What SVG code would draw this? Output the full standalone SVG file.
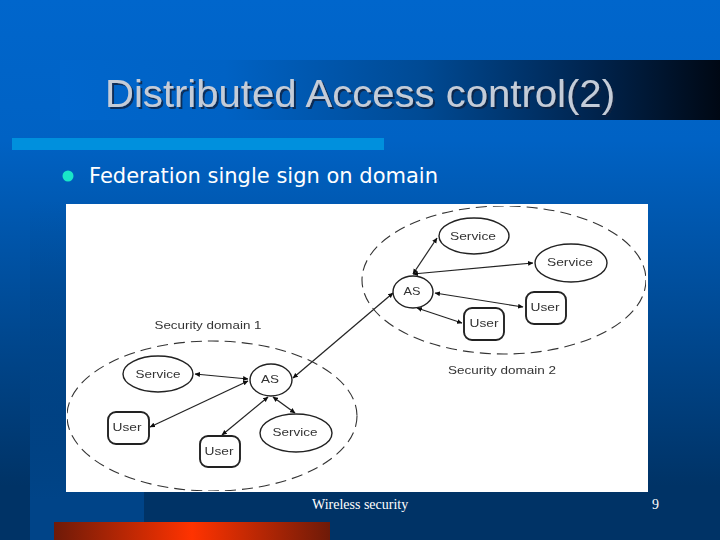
<svg xmlns="http://www.w3.org/2000/svg" width="720" height="540" viewBox="0 0 720 540">
<style>
.d{font-family:"Liberation Sans",Arial,sans-serif;font-size:11px;fill:#333;text-anchor:middle}
.n{fill:#fff;stroke:#222;stroke-width:1.4}
.u{fill:#fff;stroke:#222;stroke-width:1.9}
.b{fill:none;stroke:#333;stroke-width:1.1;stroke-dasharray:11 6}
.c{fill:none;stroke:#222;stroke-width:1.2;marker-start:url(#m);marker-end:url(#m)}
.f{font-family:"Liberation Serif",serif;font-size:14px;fill:#fff}
</style>
<defs>
<linearGradient id="bg" x1="0" y1="0" x2="0" y2="540" gradientUnits="userSpaceOnUse"><stop offset="0" stop-color="#0066cc"/><stop offset="0.26" stop-color="#0062c4"/><stop offset="0.9" stop-color="#003366"/><stop offset="1" stop-color="#003366"/></linearGradient>
<linearGradient id="side" x1="0" y1="200" x2="0" y2="500" gradientUnits="userSpaceOnUse"><stop offset="0" stop-color="#004488" stop-opacity="0"/><stop offset="1" stop-color="#004488"/></linearGradient>
<linearGradient id="band" x1="0" y1="0" x2="1" y2="0"><stop offset="0" stop-color="#0066cc"/><stop offset="0.25" stop-color="#0062c4"/><stop offset="0.55" stop-color="#004a94"/><stop offset="0.8" stop-color="#002550"/><stop offset="1" stop-color="#000814"/></linearGradient>
<linearGradient id="red" x1="0" y1="0" x2="1" y2="0"><stop offset="0" stop-color="#6e1a08"/><stop offset="0.5" stop-color="#ff3300"/><stop offset="1" stop-color="#6e1a08"/></linearGradient>
<marker id="m" viewBox="0 0 6 6" refX="5.5" refY="3" markerWidth="4.5" markerHeight="4.5" orient="auto-start-reverse"><path d="M0 0.3L6 3L0 5.7Z" fill="#111"/></marker>
<filter id="sh" x="-5%" y="-20%" width="110%" height="140%"><feDropShadow dx="2" dy="2" stdDeviation="0.6" flood-color="#10243c" flood-opacity="0.8"/></filter>
<filter id="soft" x="0" y="0" width="100%" height="100%"><feGaussianBlur stdDeviation="0.35"/></filter>
</defs>
<rect width="720" height="540" fill="url(#bg)"/>
<rect x="30" y="200" width="114" height="340" fill="url(#side)"/>
<rect x="60" y="60" width="660" height="60" fill="url(#band)"/>
<rect x="12" y="138" width="372" height="12" fill="#0090dd"/>
<text x="105" y="107" font-family="Liberation Sans,Arial,sans-serif" font-size="39.5" fill="#c4ccd8" filter="url(#sh)" textLength="510" lengthAdjust="spacingAndGlyphs">Distributed Access control(2)</text>
<circle cx="68" cy="176" r="5.5" fill="#19e6c8"/>
<text x="89" y="183" font-family="DejaVu Sans,sans-serif" font-size="22" fill="#fff" textLength="349" lengthAdjust="spacingAndGlyphs">Federation single sign on domain</text>
<rect x="66" y="204" width="582" height="288" fill="#fff"/>
<g filter="url(#soft)">
<g id="connectors">
<line class="c" x1="413" y1="274" x2="437" y2="238"/>
<line class="c" x1="413" y1="274" x2="533" y2="263"/>
<line class="c" x1="435" y1="293" x2="523" y2="307"/>
<line class="c" x1="417" y1="308" x2="462" y2="323"/>
<line class="c" x1="293" y1="378" x2="393" y2="293"/>
<line class="c" x1="195" y1="374" x2="248" y2="379"/>
<line class="c" x1="150" y1="427" x2="248" y2="381"/>
<line class="c" x1="268" y1="397" x2="222" y2="435"/>
<line class="c" x1="273" y1="397" x2="295" y2="413"/>
</g>
<g id="domain-2"><ellipse class="b" cx="504" cy="280" rx="142" ry="74"/><text class="d" x="502" y="374" textLength="108" lengthAdjust="spacingAndGlyphs">Security domain 2</text></g>
<g id="domain-1"><ellipse class="b" cx="212" cy="416" rx="145" ry="75"/><text class="d" x="208" y="329" textLength="107" lengthAdjust="spacingAndGlyphs">Security domain 1</text></g>
<g id="service-a"><ellipse class="n" cx="474" cy="236" rx="35" ry="18"/><text class="d" x="473" y="240" textLength="46" lengthAdjust="spacingAndGlyphs">Service</text></g>
<g id="service-b"><ellipse class="n" cx="571" cy="263" rx="36" ry="19"/><text class="d" x="570" y="266" textLength="46" lengthAdjust="spacingAndGlyphs">Service</text></g>
<g id="as-2"><ellipse class="n" cx="413" cy="292" rx="20" ry="16"/><text class="d" x="412" y="295" textLength="17" lengthAdjust="spacingAndGlyphs">AS</text></g>
<g id="user-a"><rect class="u" x="526" y="292" width="40" height="32" rx="8"/><text class="d" x="545" y="311" textLength="29" lengthAdjust="spacingAndGlyphs">User</text></g>
<g id="user-b"><rect class="u" x="464" y="308" width="40" height="32" rx="8"/><text class="d" x="484" y="327" textLength="29" lengthAdjust="spacingAndGlyphs">User</text></g>
<g id="service-c"><ellipse class="n" cx="158" cy="374" rx="35" ry="18"/><text class="d" x="158" y="378" textLength="45" lengthAdjust="spacingAndGlyphs">Service</text></g>
<g id="as-1"><ellipse class="n" cx="271" cy="380" rx="21" ry="16"/><text class="d" x="270" y="383" textLength="18" lengthAdjust="spacingAndGlyphs">AS</text></g>
<g id="user-c"><rect class="u" x="108" y="412" width="41" height="32" rx="8"/><text class="d" x="127" y="431" textLength="29" lengthAdjust="spacingAndGlyphs">User</text></g>
<g id="user-d"><rect class="u" x="200" y="436" width="40" height="31" rx="8"/><text class="d" x="219" y="455" textLength="29" lengthAdjust="spacingAndGlyphs">User</text></g>
<g id="service-d"><ellipse class="n" cx="296" cy="433" rx="36" ry="19"/><text class="d" x="295" y="436" textLength="45" lengthAdjust="spacingAndGlyphs">Service</text></g>
</g>
<text class="f" x="312" y="509">Wireless security</text>
<text class="f" x="652" y="509">9</text>
<rect x="54" y="522" width="276" height="18" fill="url(#red)"/>
</svg>
